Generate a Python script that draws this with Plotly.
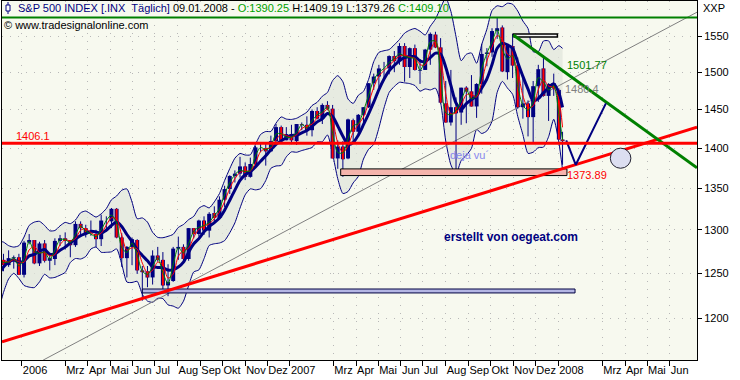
import numpy as np
import pandas as pd
import plotly.graph_objects as go

# ---------------- data (weekly OHLC, S&P 500) ----------------
week_end = list(pd.date_range("2005-11-11", "2008-01-04", freq="W-FRI")) + [pd.Timestamp("2008-01-09")]

opens = [
    1220, 1234, 1248, 1268, 1265, 1259, 1267, 1268,
    1248, 1285, 1288, 1261, 1284, 1264, 1266, 1287, 1290, 1288, 1282, 1307, 1302,
    1295, 1295, 1289, 1311, 1310, 1325, 1291, 1267, 1280, 1288, 1253, 1252, 1245,
    1270, 1265, 1236, 1241, 1278, 1280, 1266, 1302, 1295, 1311, 1299, 1320, 1314,
    1336, 1349, 1365, 1368, 1377, 1364, 1380, 1401, 1400, 1396, 1409, 1427, 1410,
    1418, 1409, 1431, 1430, 1423, 1448, 1438, 1456, 1451, 1387, 1402, 1387, 1436,
    1421, 1443, 1453, 1485, 1494, 1505, 1505, 1522, 1515, 1536, 1507, 1533, 1502,
    1503, 1531, 1552, 1534, 1458, 1433, 1453, 1446, 1479, 1474, 1454, 1484, 1525,
    1527, 1557, 1562, 1500, 1536, 1509, 1453, 1458, 1440, 1481, 1505, 1468, 1485,
    1476, 1411,
]
highs = [
    1235, 1249, 1270, 1272, 1272, 1276, 1270, 1272,
    1287, 1295, 1288, 1286, 1288, 1271, 1290, 1294, 1297, 1288, 1310, 1310, 1306,
    1311, 1300, 1318, 1316, 1326, 1326, 1296, 1281, 1291, 1289, 1258, 1258, 1276,
    1280, 1274, 1260, 1280, 1292, 1283, 1302, 1302, 1312, 1316, 1321, 1328, 1340,
    1353, 1366, 1372, 1389, 1382, 1388, 1403, 1407, 1407, 1416, 1431, 1429, 1427,
    1430, 1431, 1433, 1441, 1450, 1453, 1458, 1461, 1456, 1410, 1409, 1438, 1438,
    1444, 1453, 1485, 1498, 1510, 1514, 1523, 1529, 1540, 1540, 1534, 1538, 1518,
    1532, 1555, 1556, 1547, 1488, 1503, 1466, 1479, 1481, 1496, 1485, 1539, 1533,
    1561, 1576, 1565, 1536, 1553, 1520, 1492, 1462, 1488, 1510, 1523, 1485, 1498,
    1478, 1421,
]
lows = [
    1218, 1228, 1246, 1256, 1252, 1257, 1255, 1248,
    1245, 1283, 1260, 1258, 1262, 1253, 1259, 1281, 1277, 1268, 1280, 1294, 1291,
    1293, 1280, 1281, 1298, 1302, 1290, 1257, 1245, 1259, 1249, 1219, 1234, 1237,
    1263, 1232, 1224, 1240, 1265, 1262, 1264, 1290, 1292, 1294, 1291, 1310, 1313,
    1327, 1343, 1357, 1363, 1360, 1363, 1378, 1395, 1378, 1395, 1406, 1407, 1410,
    1405, 1404, 1423, 1416, 1415, 1437, 1431, 1449, 1389, 1374, 1364, 1386, 1409,
    1416, 1433, 1452, 1476, 1479, 1491, 1497, 1500, 1510, 1487, 1492, 1502, 1484,
    1503, 1510, 1533, 1458, 1433, 1429, 1371, 1430, 1432, 1454, 1439, 1471, 1508,
    1521, 1546, 1500, 1490, 1492, 1451, 1438, 1415, 1406, 1460, 1467, 1435, 1468,
    1411, 1379,
]
closes = [
    1234, 1248, 1268, 1265, 1259, 1267, 1268, 1248,
    1285, 1288, 1261, 1284, 1264, 1267, 1287, 1290, 1287, 1282, 1307, 1302, 1295,
    1295, 1289, 1311, 1311, 1325, 1291, 1267, 1280, 1289, 1253, 1251, 1245, 1270,
    1265, 1236, 1240, 1278, 1280, 1266, 1302, 1295, 1311, 1299, 1319, 1314, 1336,
    1349, 1365, 1368, 1377, 1364, 1380, 1401, 1401, 1396, 1409, 1427, 1410, 1418,
    1410, 1431, 1430, 1422, 1448, 1438, 1456, 1451, 1387, 1402, 1386, 1437, 1421,
    1443, 1453, 1485, 1494, 1505, 1505, 1522, 1515, 1536, 1507, 1533, 1503, 1503,
    1531, 1553, 1534, 1459, 1433, 1453, 1445, 1479, 1474, 1454, 1484, 1525, 1527,
    1557, 1561, 1501, 1536, 1509, 1453, 1458, 1440, 1481, 1504, 1468, 1484, 1478,
    1411, 1409,
]

# horizontal levels, zones and drawn trend lines (anchor dates / values)
resistance_level = 1576.09
support_level = 1406.1
zone_1373 = {"dates": ["2007-03-11", "2008-01-13"], "vals": [1365.6, 1373.89]}
zone_1230 = {"dates": ["2006-06-14", "2008-01-24"], "vals": [1227.6, 1232.0]}
zone_top = {"dates": ["2007-11-01", "2007-12-31"], "vals": [1548.6, 1552.8]}
target_zone = {"dates": ["2008-03-12", "2008-04-09"], "vals": [1374.7, 1400.0]}
up_trend_dates = ["2005-12-05", "2008-07-08"]
up_trend_vals = [1174.4, 1427.0]
down_trend_dates = ["2007-11-01", "2008-07-08"]
down_trend_vals = [1551.4, 1375.2]
channel_dates = ["2006-01-30", "2008-07-10"]
channel_vals = [1155.0, 1585.0]
forecast_dates = ["2008-01-12", "2008-01-25", "2008-03-06"]
forecast_vals = [1410, 1379, 1458]

y_ticks = [1200, 1250, 1300, 1350, 1400, 1450, 1500, 1550]
x_tick_dates = ["2006-01-01", "2006-03-01", "2006-04-01", "2006-05-01", "2006-06-01", "2006-07-01",
                "2006-08-01", "2006-09-01", "2006-10-01", "2006-11-01", "2006-12-01",
                "2007-01-01", "2007-03-01", "2007-04-01", "2007-05-01", "2007-06-01", "2007-07-01",
                "2007-08-01", "2007-09-01", "2007-10-01", "2007-11-01", "2007-12-01",
                "2008-01-01", "2008-03-01", "2008-04-01", "2008-05-01", "2008-06-01"]
x_tick_text = ["2006", "Mrz", "Apr", "Mai", "Jun", "Jul", "Aug", "Sep", "Okt", "Nov", "Dez",
               "2007", "Mrz", "Apr", "Mai", "Jun", "Jul", "Aug", "Sep", "Okt", "Nov", "Dez",
               "2008", "Mrz", "Apr", "Mai", "Jun"]

# ---------------- indicators ----------------
O = np.array(opens, float); H = np.array(highs, float)
L = np.array(lows, float); C = np.array(closes, float)
n = len(C)
x_mid = [d - pd.Timedelta(days=2) for d in week_end]
body_mid = pd.Series((O + C) / 2)
ma_fast = body_mid
ma_med = body_mid.rolling(2, min_periods=1).mean()
ma_slow = body_mid.rolling(4, min_periods=1).mean()
pts = np.column_stack([O, H, L, C])
sd = np.array([np.std(pts[max(0, i - 3):i + 1].ravel()) for i in range(n)])
bb_up = ma_slow + 2.2 * sd
bb_lo = ma_slow - 2.2 * sd

# candle segments (wicks, bodies, red interior of falling candles)
wick_x, wick_y, body_x, body_y, dn_x, dn_y = [], [], [], [], [], []
for d, o, h, l, c in zip(x_mid, opens, highs, lows, closes):
    wick_x += [d, d, None]; wick_y += [l, h, None]
    body_x += [d, d, None]; body_y += [o, c, None]
    if c < o:
        dn_x += [d, d, None]; dn_y += [o, c, None]

NAVY = "#000080"
FONT = "Liberation Sans, Arial, sans-serif"


def box_trace(zone, fill, edge, width=1):
    (d0, d1), (v0, v1) = zone["dates"], zone["vals"]
    return go.Scatter(x=[d0, d1, d1, d0, d0], y=[v0, v0, v1, v1, v0], mode="lines", fill="toself",
                      fillcolor=fill, line=dict(color=edge, width=width), hoverinfo="skip")


fig = go.Figure()
fig.add_trace(go.Scatter(x=x_mid, y=bb_lo, mode="lines", line=dict(color=NAVY, width=1, shape="spline", smoothing=0.6), hoverinfo="skip"))
fig.add_trace(go.Scatter(x=x_mid, y=bb_up, mode="lines", line=dict(color=NAVY, width=1, shape="spline", smoothing=0.6),
                         fill="tonexty", fillcolor="rgba(226,229,220,0.75)", hoverinfo="skip"))
fig.add_trace(go.Scatter(x=channel_dates, y=channel_vals, mode="lines",
                         line=dict(color="#808080", width=1), hoverinfo="skip"))
fig.add_trace(go.Scatter(x=wick_x, y=wick_y, mode="lines", line=dict(color=NAVY, width=1), hoverinfo="skip"))
fig.add_trace(go.Scatter(x=body_x, y=body_y, mode="lines", line=dict(color=NAVY, width=4), hoverinfo="skip"))
fig.add_trace(go.Scatter(x=dn_x, y=dn_y, mode="lines", line=dict(color="#FF0000", width=2), hoverinfo="skip"))
fig.add_trace(go.Scatter(x=x_mid, y=ma_slow, mode="lines", line=dict(color=NAVY, width=3, shape="spline", smoothing=0.8)))
fig.add_trace(go.Scatter(x=x_mid, y=ma_med, mode="lines", line=dict(color="#FF0000", width=1, shape="spline", smoothing=0.8)))
fig.add_trace(go.Scatter(x=x_mid, y=ma_fast, mode="lines", line=dict(color="#008000", width=1, shape="spline", smoothing=0.8)))
fig.add_trace(box_trace(zone_1373, "#F5B4AC", "black"))
fig.add_trace(box_trace(zone_1230, "#B4B6E4", "#000040"))
fig.add_trace(box_trace(zone_top, "#F2F2F2", "black", 1.5))
fig.add_trace(go.Scatter(x=up_trend_dates, y=up_trend_vals, mode="lines", line=dict(color="#FF0000", width=3)))
fig.add_trace(go.Scatter(x=down_trend_dates, y=down_trend_vals, mode="lines", line=dict(color="#008000", width=3)))
fig.add_trace(go.Scatter(x=forecast_dates, y=forecast_vals, mode="lines", line=dict(color=NAVY, width=2)))

W, Hh = 740, 380
ML, MR, MT, MB = 2, 43, 1, 20
PW, PH = W - ML - MR, Hh - MT - MB


def px(x):
    return (x - ML) / PW


def py(y):
    return 1 - (y - MT) / PH


shapes = [
    dict(type="line", xref="paper", x0=0, x1=1, yref="y", y0=resistance_level, y1=resistance_level,
         line=dict(color="#008000", width=2)),
    dict(type="line", xref="paper", x0=0, x1=1, yref="y", y0=support_level, y1=support_level,
         line=dict(color="#FF0000", width=3)),
    dict(type="circle", xref="x", yref="y", x0=target_zone["dates"][0], x1=target_zone["dates"][1],
         y0=target_zone["vals"][0], y1=target_zone["vals"][1],
         fillcolor="#DCDEF0", line=dict(color="#202030", width=1)),
    # small candle icon in the header
    dict(type="line", xref="paper", yref="paper", x0=px(8), x1=px(8), y0=py(2), y1=py(14),
         line=dict(color=NAVY, width=1)),
    dict(type="rect", xref="paper", yref="paper", x0=px(6), x1=px(10), y0=py(5), y1=py(11),
         fillcolor="white", line=dict(color=NAVY, width=1)),
]

ann = []
header = ("<span style='color:#000080'>S&amp;P 500 INDEX [.INX\u00a0 Täglich]</span> 09.01.2008 - "
          "<span style='color:#00A000'>O:1390.25</span> H:1409.19 L:1379.26 "
          "<span style='color:#00A000'>C:1409.10</span>")
ann.append(dict(xref="paper", yref="paper", x=px(16), y=py(8), text=header, showarrow=False,
                xanchor="left", yanchor="middle", font=dict(size=11, color="black", family=FONT)))
ann.append(dict(xref="paper", yref="paper", x=px(2), y=py(25), text="© www.tradesignalonline.com",
                showarrow=False, xanchor="left", yanchor="middle", font=dict(size=11, color="black", family=FONT)))
ann.append(dict(xref="paper", yref="paper", x=px(701), y=py(8), text="XXP", showarrow=False,
                xanchor="left", yanchor="middle", font=dict(size=11, color="black", family=FONT)))
ann.append(dict(xref="paper", yref="paper", x=px(442), y=py(237), text="<b>erstellt von oegeat.com</b>",
                showarrow=False, xanchor="left", yanchor="middle", font=dict(size=12, color=NAVY, family=FONT)))


def label(date, val, text, color):
    ann.append(dict(xref="x", yref="y", x=date, y=np.log10(val), text=text, showarrow=False,
                    xanchor="left", yanchor="middle", font=dict(size=11, color=color, family=FONT)))


label("2005-12-22", 1415.4, "1406.1", "#FF0000")
label("2008-01-11", 1366.6, "1373.89", "#FF0000")
label("2008-01-10", 1510.0, "1501.77", "#008000")
label("2008-01-08", 1476.9, "1480.4", "#808080")
label("2007-08-04", 1391.0, "deja vu´", "#8888EE")

fig.update_layout(
    width=W, height=Hh, margin=dict(l=ML, r=MR, t=MT, b=MB),
    paper_bgcolor="white", plot_bgcolor="#F7F9EF", showlegend=False,
    font=dict(family=FONT, size=11, color="black"),
    shapes=shapes, annotations=ann,
    xaxis=dict(type="date", range=["2005-12-05", "2008-07-08"], tickvals=x_tick_dates, ticktext=x_tick_text,
               ticks="outside", ticklen=5, tickcolor="black", ticklabelposition="outside right", tickangle=0,
               showgrid=True, gridcolor="#B8B8B8", griddash="1px,7px", gridwidth=1,
               showline=True, linecolor="black", linewidth=1, mirror=True, zeroline=False,
               tickfont=dict(size=11, color="black", family=FONT)),
    yaxis=dict(type="log", side="right", range=[3.06263, 3.20413], tickvals=y_ticks,
               ticktext=[str(v) for v in y_ticks], ticks="outside", ticklen=4, tickcolor="black",
               showgrid=True, gridcolor="#B8B8B8", griddash="1px,7px", gridwidth=1,
               showline=True, linecolor="black", linewidth=1, mirror=True, zeroline=False,
               tickfont=dict(size=11, color="black", family=FONT)),
)

fig.write_html("out.html", config={"displayModeBar": False},
               post_script="document.body.style.margin='0';document.body.style.padding='0';")
